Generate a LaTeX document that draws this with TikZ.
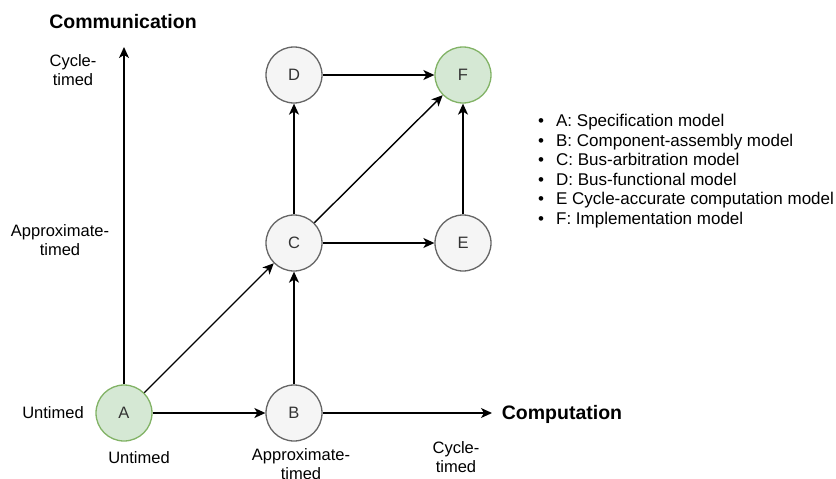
\documentclass[tikz,border=0pt]{standalone}
\usepackage{fontspec}
\setmainfont{Liberation Sans}
\usetikzlibrary{arrows.meta}
\definecolor{greenfill}{HTML}{D5E8D4}
\definecolor{greenline}{HTML}{82B366}
\definecolor{grayfill}{HTML}{F5F5F5}
\definecolor{grayline}{HTML}{666666}
\definecolor{nodetext}{HTML}{333333}
\tikzset{
  model/.style={circle, minimum size=56pt, inner sep=0pt, line width=1.3pt,
    text=nodetext, font=\fontsize{16.5}{19}\selectfont},
  greenmodel/.style={model, draw=greenline, fill=greenfill},
  graymodel/.style={model, draw=grayline, fill=grayfill},
  link/.style={line width=1.4pt, -{Stealth[length=11pt, width=10pt, inset=3pt]}},
  lbl/.style={align=center, inner sep=0pt, font=\fontsize{16.5}{19}\selectfont},
  axistitle/.style={inner sep=0pt, font=\fontsize{19.5}{22}\selectfont\bfseries},
}
\begin{document}
\begin{tikzpicture}[x=1pt, y=-1pt]
\useasboundingbox (0,0) rectangle (836,479);
\clip (0,0) rectangle (836,479);

% model nodes
\node[greenmodel] (A) at (124,413) {A};
\node[graymodel]  (B) at (294,413) {B};
\node[graymodel]  (C) at (294,243) {C};
\node[graymodel]  (D) at (294,75)  {D};
\node[graymodel]  (E) at (463,243) {E};
\node[greenmodel] (F) at (463,75)  {F};

% axes
\coordinate (commtip) at (124,47);
\coordinate (comptip) at (492,413);
\draw[link] (A) -- (commtip);
\draw[link] (B) -- (comptip);
\node[axistitle] (commtitle) at (123,22) {Communication};
\node[axistitle] (comptitle) at (562,414) {Computation};

% refinement steps
\draw[link] (A) -- (B);
\draw[link] (A) -- (C);
\draw[link] (B) -- (C);
\draw[link] (C) -- (D);
\draw[link] (C) -- (E);
\draw[link] (C) -- (F);
\draw[link] (D) -- (F);
\draw[link] (E) -- (F);

% axis levels
\node[lbl] (ycyc) at (73,70) {Cycle-\\timed};
\node[lbl] (yapp) at (60,240) {Approximate-\\timed};
\node[lbl] (yunt) at (53,413) {Untimed};
\node[lbl] (xunt) at (139,458) {Untimed};
\node[lbl] (xapp) at (301,464) {Approximate-\\timed};
\node[lbl] (xcyc) at (456,457) {Cycle-\\timed};

% legend
\node[inner sep=0pt, anchor=north west, font=\fontsize{17}{19.5}\selectfont] (legend) at (538,113) {%
  \begin{tabular}{@{}l@{\hspace{12pt}}l@{}}
  \textbullet & A: Specification model\\
  \textbullet & B: Component-assembly model\\
  \textbullet & C: Bus-arbitration model\\
  \textbullet & D: Bus-functional model\\
  \textbullet & E Cycle-accurate computation model\\
  \textbullet & F: Implementation model
  \end{tabular}};
\end{tikzpicture}
\end{document}
